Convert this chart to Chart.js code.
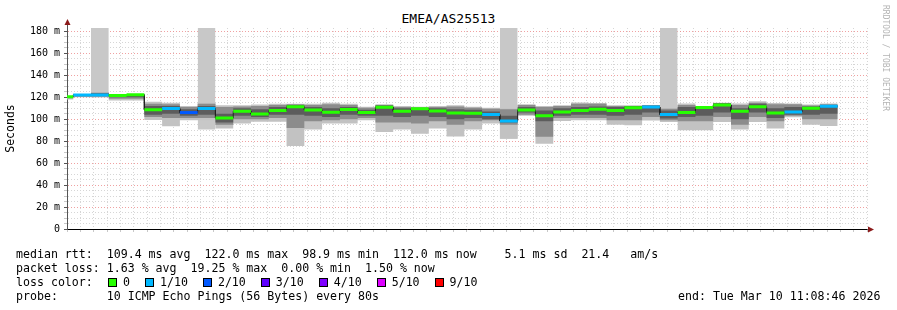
<!DOCTYPE html>
<html lang="en">
<head>
<meta charset="UTF-8">
<title>EMEA/AS25513</title>
<script src="https://cdn.jsdelivr.net/npm/chart.js"></script>
<style>
  body { margin: 0; background: #fff; }
  #wrap { position: relative; width: 897px; height: 310px; font-family: 'DejaVu Sans Mono', monospace; color: #000; overflow: hidden; }
  #chartBox { position: absolute; left: 0; top: 1px; width: 897px; height: 250px; }
  .title { position: absolute; top: 11px; left: 0; width: 897px; text-align: center; font-size: 13px; line-height: 15px; }
  .leg { position: absolute; left: 16px; font-size: 11.6px; line-height: 14px; white-space: pre; }
  .lossRow { position: absolute; left: 108px; top: 275px; display: flex; align-items: center; height: 14px; font-size: 11.6px; white-space: pre; }
  .sw { width: 7px; height: 7px; border: 1px solid #000; margin-right: 6px; }
  .lossRow span.t { margin-right: 15px; }
  .mark { position: absolute; left: 881px; top: 5px; writing-mode: vertical-rl; font-size: 8px; color: #b4b4b4; }
</style>
</head>
<body>
<div id="wrap">
  <div class="title">EMEA/AS25513</div>
  <div id="chartBox"><canvas id="rttChart"></canvas></div>
  <div class="leg" id="line1" style="top:247px"></div>
  <div class="leg" id="line2" style="top:261px"></div>
  <div class="leg" style="top:275px">loss color:</div>
  <div class="lossRow" id="lossRow"></div>
  <div class="leg" id="line4" style="top:289px"></div>
  <div class="leg" id="endLine" style="top:289px; left:678px"></div>
  <div class="mark">RRDTOOL / TOBI OETIKER</div>
</div>

<script>
// time window (x axis) and 80 s probe steps
const axisStart = '10:08:52';
const axisEnd = '11:08:52';
const firstStep = '10:09:20';
const stepSeconds = 80;

// one entry per step, values in ms (first entry is the partial step at the left edge)
const medianRtt = [120.3, 122.1, 122.1, 121.5, 122.2,
  108.5, 109.6, 106.0, 109.6, 101.0, 107.2, 104.6, 107.8, 111.2, 108.4,
  106.3, 108.7, 106.0, 110.9, 107.2, 109.4, 107.5, 105.7, 105.4, 104.2,
  98.4, 108.4, 103.0, 106.6, 107.8, 109.0, 107.8, 110.3, 111.0, 104.2,
  106.0, 110.6, 113.0, 107.2, 111.2, 105.7, 106.6, 109.9, 111.8];
const lossTenths = [0, 1, 1, 0, 0,
  0, 1, 2, 1, 0, 0, 0, 0, 0, 0,
  0, 0, 0, 0, 0, 0, 0, 0, 0, 1,
  1, 0, 0, 0, 0, 0, 0, 0, 1, 1,
  0, 0, 0, 0, 0, 0, 1, 0, 1];
const smokeMin = [118, 120, 120, 117, 117,
  99.3, 93.5, 99, 99, 91.4, 96, 97.6, 97.6, 75.5, 90.7,
  96, 96, 99, 88.3, 90.7, 86.8, 91.4, 84.3, 90.7, 96,
  82.2, 103, 77.7, 98.4, 99, 99, 95, 94.4, 98.7, 97.5,
  89.8, 89.8, 97.5, 90.7, 97.5, 91.4, 101.7, 95, 93.8];
const smokeMax = [121, 122.5, 124.5, 122, 122.5,
  115.9, 115, 112, 115, 112.7, 112.7, 113.3, 114, 114, 114,
  115, 114, 111.2, 113.6, 112, 111.2, 112, 112.7, 111.2, 110.3,
  110, 113.6, 112, 112.7, 115.1, 114.7, 112.7, 112.7, 112.7, 110,
  114.2, 112, 115, 114.2, 116.3, 114.7, 114.2, 113.3, 114.2];
const midLow = [119, 120.5, 120.5, 118.5, 118.5,
  102, 101, 101, 101, 95, 100, 100, 101, 92, 98,
  99, 100, 101, 97, 97, 96, 98, 95, 98, 99,
  95, 104, 84, 101, 101, 101, 99, 99, 102, 99,
  98, 98, 102, 95, 102, 98, 103, 100, 100];
const midHigh = [121, 122.5, 124, 122, 122.5,
  114, 113.5, 111, 114, 111, 111.5, 112, 113, 113.5, 113,
  113.5, 113, 110.5, 113, 111, 110.5, 111, 111.5, 110.5, 109.5,
  109, 113, 111, 112, 114, 114, 112, 112, 112.5, 109.5,
  113, 111.5, 114.5, 113, 115, 113.5, 113.5, 112.5, 113.5];
const coreLow = [119.5, 121, 121, 120, 120,
  104, 105, 103, 104, 97, 103, 102, 104, 104, 103,
  102, 104, 103, 103, 102, 103, 102, 100, 101, 100,
  97, 106, 98, 103, 104, 104, 103, 104, 106, 100.5,
  102, 103, 106, 100, 106, 101, 104, 104, 105];
const coreHigh = [121, 122.5, 123.5, 122, 122.5,
  112, 112, 109, 112, 105, 110, 109, 111, 113, 111,
  110, 111, 108.5, 112.5, 110, 110.5, 110, 109, 108.5, 107,
  103, 111, 108, 110, 111, 111.5, 111, 112, 112.5, 108,
  111, 111.5, 114.5, 110, 114, 110, 111, 111.5, 113];
// lost pings: smoke runs from this value up to the top of the graph
const lostFrom = [null, null, 120, null, null,
  null, null, null, 90.7, null, null, null, null, null, null,
  null, null, null, null, null, null, null, null, null, null,
  82.2, null, null, null, null, null, null, null, null, 97.5,
  null, null, null, null, null, null, null, null, null];

const lossLabels = ['0', '1/10', '2/10', '3/10', '4/10', '5/10', '9/10'];
const lossLevels = [0, 1, 2, 3, 4, 5, 9];
const lossColors = ['#26ff00', '#00b8ff', '#0059ff', '#5e00ff', '#7e00ff', '#dd00ff', '#ff0000'];

const yMax = 183;

const statsRtt = 'median rtt:  109.4 ms avg  122.0 ms max  98.9 ms min  112.0 ms now    5.1 ms sd  21.4   am/s';
const statsLoss = 'packet loss: 1.63 % avg  19.25 % max  0.00 % min  1.50 % now';
const probeText = 'probe:       10 ICMP Echo Pings (56 Bytes) every 80s';
const endText = 'end: Tue Mar 10 11:08:46 2026';

// minutes since 10:00
function toMin(t) {
  const p = t.split(':').map(Number);
  return (p[0] - 10) * 60 + p[1] + p[2] / 60;
}
function minLabel(v) {
  const h = 10 + Math.floor(v / 60);
  const m = Math.round(v % 60);
  return String(h).padStart(2, '0') + ':' + String(m).padStart(2, '0');
}

const bounds = [toMin(axisStart)];
for (let i = 0; i < medianRtt.length; i++) bounds.push(toMin(firstStep) + i * stepSeconds / 60);

// horizontal step per interval; breakEach leaves a gap after every step
function steps(vals, breakEach) {
  const pts = [];
  vals.forEach((v, i) => {
    if (v === null) { pts.push({ x: bounds[i], y: null }); return; }
    pts.push({ x: bounds[i], y: v }, { x: bounds[i + 1], y: v });
    if (breakEach) pts.push({ x: bounds[i + 1], y: null });
  });
  return pts;
}

const none = 'rgba(0,0,0,0)';
const band = (lo, hi, color, order) => [
  { data: steps(lo), borderColor: none, borderWidth: 0, fill: false, order },
  { data: steps(hi), borderColor: none, borderWidth: 0, fill: '-1', backgroundColor: color, order }
];

const datasets = [
  { data: steps(lostFrom), borderColor: none, borderWidth: 0, fill: 'end', backgroundColor: '#c8c8c8', order: 10 },
  ...band(smokeMin, smokeMax, '#c2c2c2', 9),
  ...band(midLow, midHigh, '#8c8c8c', 8),
  ...band(coreLow, coreHigh, '#5c5c5c', 7),
  { data: steps(medianRtt), borderColor: '#202020', borderWidth: 1, fill: false, order: 2 }
];
lossLevels.forEach((lvl, k) => {
  const vals = medianRtt.map((m, i) => lossTenths[i] === lvl ? m : null);
  if (vals.every(v => v === null)) return;
  datasets.push({ data: steps(vals, true), borderColor: lossColors[k], borderWidth: 3, borderCapStyle: 'butt', fill: false, order: 1 });
});

// little arrows at the ends of the axes
const axisArrows = {
  id: 'axisArrows',
  afterDraw(chart) {
    const { ctx, chartArea: a } = chart;
    ctx.save();
    ctx.strokeStyle = '#555';
    ctx.lineWidth = 1;
    ctx.beginPath();
    ctx.moveTo(a.left + 0.5, a.top);
    ctx.lineTo(a.left + 0.5, a.top - 5);
    ctx.moveTo(a.right, a.bottom + 0.5);
    ctx.lineTo(a.right + 3, a.bottom + 0.5);
    ctx.stroke();
    ctx.fillStyle = '#8b1a1a';
    ctx.beginPath();
    ctx.moveTo(a.left - 2.5, a.top - 3);
    ctx.lineTo(a.left + 3.5, a.top - 3);
    ctx.lineTo(a.left + 0.5, a.top - 9);
    ctx.closePath();
    ctx.fill();
    ctx.beginPath();
    ctx.moveTo(a.right + 1, a.bottom - 2.5);
    ctx.lineTo(a.right + 1, a.bottom + 3.5);
    ctx.lineTo(a.right + 7, a.bottom + 0.5);
    ctx.closePath();
    ctx.fill();
    ctx.restore();
  }
};

const mono = "'DejaVu Sans Mono', monospace";
const majorRed = 'rgba(235,130,130,0.75)';
const minorGrey = '#d6d6d6';

new Chart(document.getElementById('rttChart'), {
  type: 'line',
  data: { datasets },
  plugins: [axisArrows],
  options: {
    responsive: true,
    maintainAspectRatio: false,
    animation: false,
    layout: { padding: { top: 27, right: 30, left: 0, bottom: 0 } },
    elements: { point: { radius: 0, hoverRadius: 0 }, line: { tension: 0 } },
    plugins: { legend: { display: false }, tooltip: { enabled: false }, title: { display: false } },
    scales: {
      x: {
        type: 'linear',
        min: toMin(axisStart),
        max: toMin(axisEnd),
        afterFit: s => { s.height = 22; },
        ticks: {
          stepSize: 1,
          autoSkip: false,
          maxRotation: 0,
          includeBounds: false,
          padding: 1,
          color: '#000',
          font: { family: mono, size: 10 },
          callback: v => (Math.abs(v % 5) < 1e-6 ? minLabel(v) : '')
        },
        grid: {
          color: c => (Math.abs(c.tick.value % 5) < 1e-6 ? majorRed : minorGrey),
          tickColor: c => (Math.abs(c.tick.value % 5) < 1e-6 ? '#e05050' : '#c8c8c8'),
          tickLength: 3
        },
        border: { color: '#000', width: 1, dash: [1, 2] }
      },
      y: {
        min: 0,
        max: yMax,
        afterFit: s => { s.width = 67; },
        ticks: {
          stepSize: 5,
          autoSkip: false,
          includeBounds: false,
          padding: 4,
          color: '#000',
          font: { family: mono, size: 10 },
          callback: v => (v % 20 === 0 ? (v === 0 ? '0' : v + ' m') : '')
        },
        grid: {
          color: c => (c.tick.value % 20 === 0 ? majorRed : minorGrey),
          tickColor: c => (c.tick.value % 20 === 0 ? '#555' : '#c8c8c8'),
          tickLength: 3
        },
        border: { color: '#555', width: 1, dash: [1, 2] },
        title: { display: true, text: 'Seconds', color: '#000', font: { family: mono, size: 11.5 }, padding: { top: 4, bottom: 0 } }
      }
    }
  }
});

// legend text under the graph
document.getElementById('line1').textContent = statsRtt;
document.getElementById('line2').textContent = statsLoss;
document.getElementById('line4').textContent = probeText;
document.getElementById('endLine').textContent = endText;
const row = document.getElementById('lossRow');
lossLabels.forEach((lab, k) => {
  const sw = document.createElement('span');
  sw.className = 'sw';
  sw.style.background = lossColors[k];
  const t = document.createElement('span');
  t.className = 't';
  t.textContent = lab;
  row.appendChild(sw);
  row.appendChild(t);
});
</script>
</body>
</html>
